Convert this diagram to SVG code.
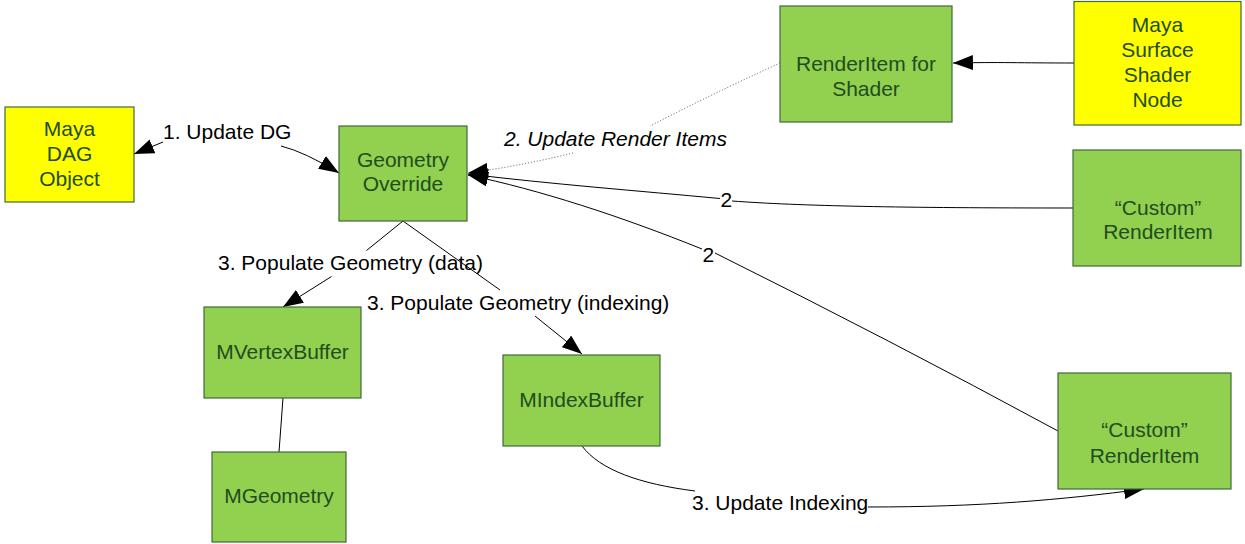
<svg xmlns="http://www.w3.org/2000/svg" width="1245" height="544" viewBox="0 0 1245 544">
  <defs>
    <style>
      .box { stroke: #3f6b38; stroke-width: 1.2; }
      .green { fill: #92d050; }
      .yellow { fill: #ffff00; }
      .nt { font-family: "Liberation Sans", Arial, sans-serif; font-size: 21px; fill: #1f4d1f; text-anchor: middle; }
      .lbl { font-family: "Liberation Sans", Arial, sans-serif; font-size: 21px; fill: #000; }
      .it { font-style: italic; }
      .ln { fill: none; stroke: #000; stroke-width: 1; }
      .dot { fill: none; stroke: #555; stroke-width: 1; stroke-dasharray: 1 2; }
    </style>
    <marker id="ah" markerUnits="userSpaceOnUse" markerWidth="20" markerHeight="15" refX="20" refY="7.5" orient="auto">
      <path d="M0,0 L20,7.5 L0,15 z" fill="#000"/>
    </marker>
  </defs>
  <rect width="1245" height="544" fill="#fff"/>

  <g id="connectors">
    <!-- 1. Update DG -->
    <path class="ln" d="M163,142 L134,154" marker-end="url(#ah)"/>
    <path class="ln" d="M281,146 Q305,152 339,173" marker-end="url(#ah)"/>
    <!-- Shader node -> RenderItem for Shader -->
    <path class="ln" d="M1074,63 C1020,63 1000,62 953,63" marker-end="url(#ah)"/>
    <!-- 2. Update Render Items (dotted) -->
    <path class="dot" d="M780,63 Q710,95 650,126"/>
    <path class="dot" d="M573,153 Q520,166 468,173" marker-end="url(#ah)"/>
    <!-- Custom top -> Geometry Override -->
    <path class="ln" d="M1073,208 C900,208 800,206 732,201"/>
    <path class="ln" d="M720,198.5 C640,191 550,184 468,174" marker-end="url(#ah)"/>
    <!-- Custom bottom -> Geometry Override -->
    <path class="ln" d="M1058,431 Q890,340 715,253"/>
    <path class="ln" d="M702,249 C620,216 540,190 468,175" marker-end="url(#ah)"/>
    <!-- 3. Populate Geometry (data) -->
    <path class="ln" d="M403,221 L366.5,250.5"/>
    <path class="ln" d="M331.5,276.5 L283,307" marker-end="url(#ah)"/>
    <!-- 3. Populate Geometry (indexing) -->
    <path class="ln" d="M403,221 L500,290"/>
    <path class="ln" d="M535,316 L582,354" marker-end="url(#ah)"/>
    <!-- MVertexBuffer - MGeometry -->
    <path class="ln" d="M283,398 L279,452"/>
    <!-- 3. Update Indexing -->
    <path class="ln" d="M582,446 C600,470 640,484 695,491"/>
    <path class="ln" d="M868,507 C980,507 1060,500 1144,489" marker-end="url(#ah)"/>

    <text class="lbl" x="163" y="139">1. Update DG</text>
    <text class="lbl it" x="504" y="146">2. Update Render Items</text>
    <text class="lbl" x="720.5" y="207">2</text>
    <text class="lbl" x="702.5" y="262">2</text>
    <text class="lbl" x="218" y="270">3. Populate Geometry (data)</text>
    <text class="lbl" x="367" y="310">3. Populate Geometry (indexing)</text>
    <text class="lbl" x="692" y="510">3. Update Indexing</text>
  </g>

  <g id="maya-dag-object">
    <rect class="box yellow" x="5" y="107" width="129" height="95"/>
    <text class="nt" x="69.5" y="135.7">Maya</text>
    <text class="nt" x="69.5" y="161">DAG</text>
    <text class="nt" x="69.5" y="185.7">Object</text>
  </g>

  <g id="geometry-override">
    <rect class="box green" x="339" y="126" width="128" height="95"/>
    <text class="nt" x="403" y="166.7">Geometry</text>
    <text class="nt" x="403" y="191">Override</text>
  </g>

  <g id="renderitem-for-shader">
    <rect class="box green" x="780" y="6" width="172" height="116"/>
    <text class="nt" x="866" y="70.7">RenderItem for</text>
    <text class="nt" x="866" y="95.7">Shader</text>
  </g>

  <g id="maya-surface-shader-node">
    <rect class="box yellow" x="1074" y="1.5" width="167" height="123.5"/>
    <text class="nt" x="1157.5" y="31.7">Maya</text>
    <text class="nt" x="1157.5" y="56.7">Surface</text>
    <text class="nt" x="1157.5" y="81.7">Shader</text>
    <text class="nt" x="1157.5" y="106.7">Node</text>
  </g>

  <g id="custom-renderitem-top">
    <rect class="box green" x="1073" y="150" width="168" height="116"/>
    <text class="nt" x="1158" y="215">“Custom”</text>
    <text class="nt" x="1158" y="239.3">RenderItem</text>
  </g>

  <g id="mvertexbuffer">
    <rect class="box green" x="204" y="307" width="157" height="91"/>
    <text class="nt" x="282.5" y="359">MVertexBuffer</text>
  </g>

  <g id="mgeometry">
    <rect class="box green" x="212" y="452" width="134" height="90"/>
    <text class="nt" x="279" y="503.3">MGeometry</text>
  </g>

  <g id="mindexbuffer">
    <rect class="box green" x="503" y="355" width="157" height="91"/>
    <text class="nt" x="581.5" y="406.7">MIndexBuffer</text>
  </g>

  <g id="custom-renderitem-bottom">
    <rect class="box green" x="1058" y="373" width="173" height="116"/>
    <text class="nt" x="1144.5" y="436.7">“Custom”</text>
    <text class="nt" x="1144.5" y="462.7">RenderItem</text>
  </g>
</svg>
